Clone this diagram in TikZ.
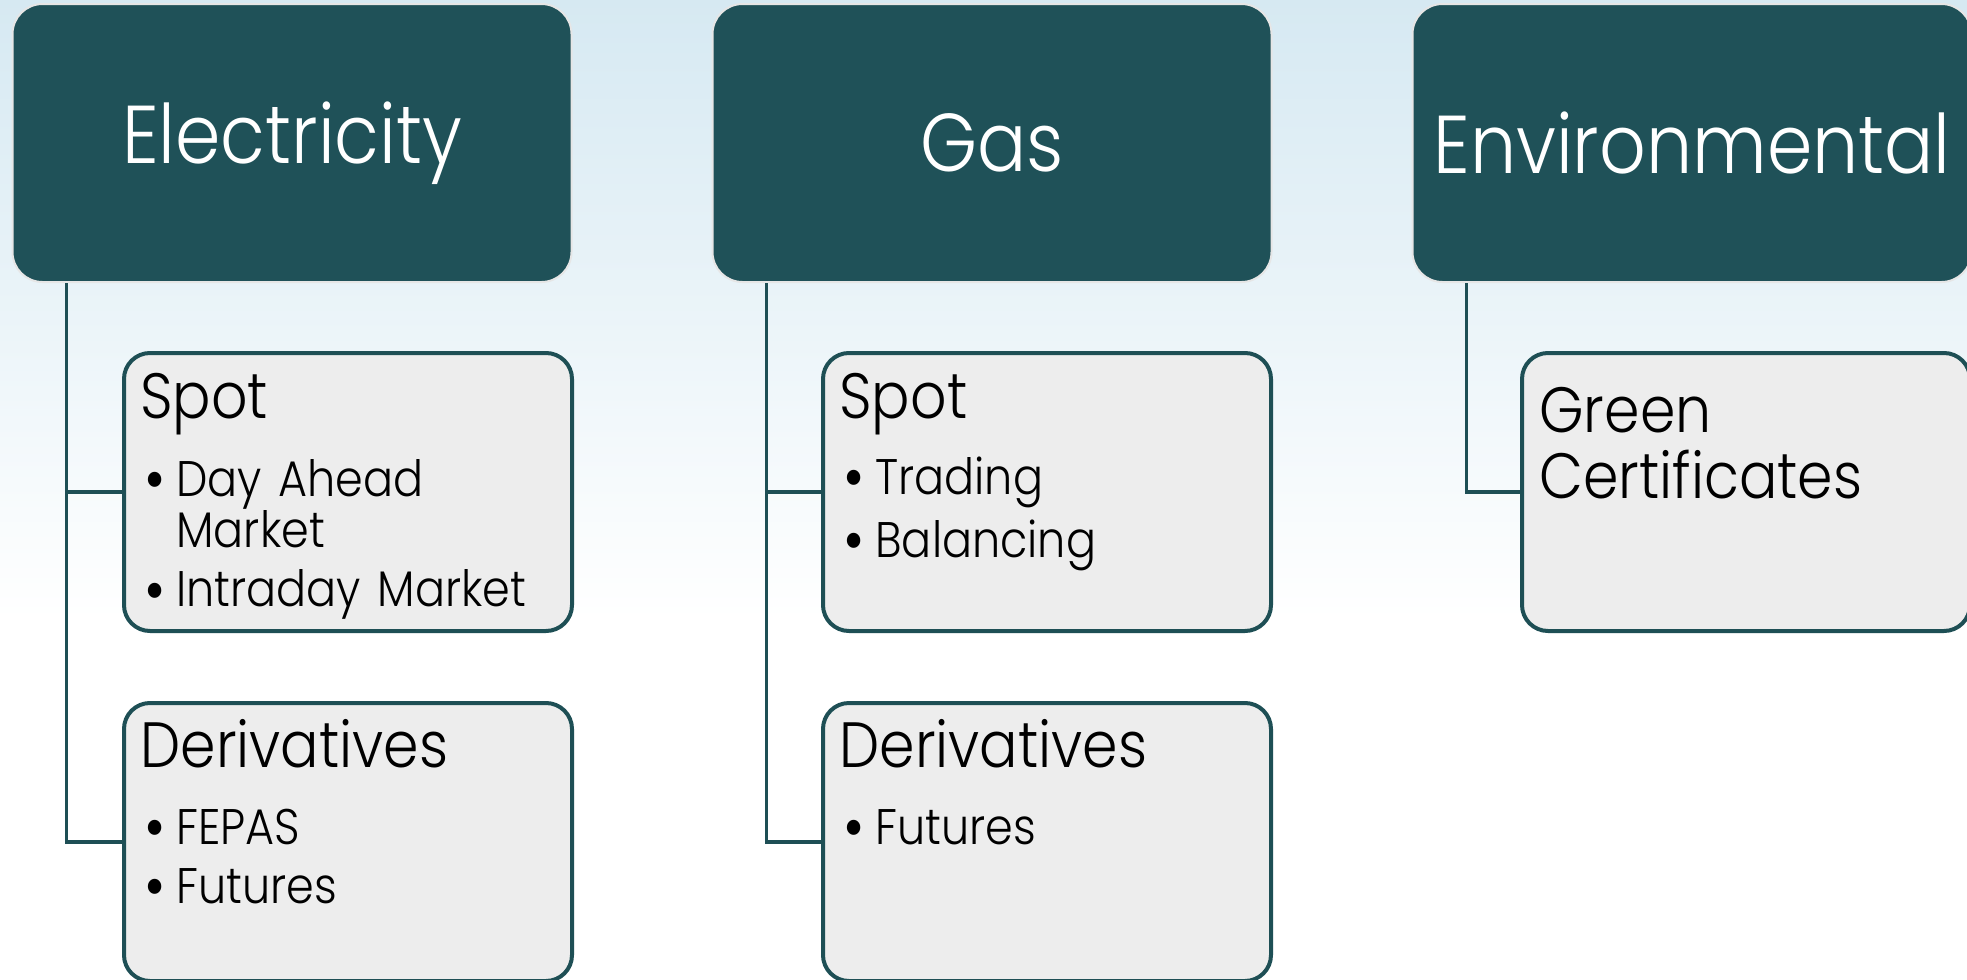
\documentclass[tikz,border=0pt]{standalone}
\usepackage{fontspec}
\setmainfont{Poppins}[FakeStretch=0.89, UprightFont=* Light]
\usepackage{xcolor}
\usetikzlibrary{positioning}

\definecolor{mkteal}{HTML}{1F5158}
\definecolor{mkline}{HTML}{1E4F55}
\definecolor{mkgrey}{HTML}{EDEDED}
\definecolor{mkrim}{HTML}{E6E6E6}
\definecolor{mkbgtop}{HTML}{D6E9F2}

\newcommand{\mkbul}[1]{\hspace*{2pt}\makebox[16pt][l]{\raisebox{-2.8pt}{\scalebox{1.3}{\textbullet}}}#1}
\newcommand{\mkcont}[1]{\hspace*{18pt}#1}

\tikzset{
  market/.style={draw=mkrim, line width=1pt, fill=mkteal, rounded corners=15pt,
    minimum width=279.5pt, minimum height=139pt, inner sep=0pt,
    text=white, font=\fontsize{41}{48}\selectfont},
  product/.style={draw=mkline, line width=2pt, fill=mkgrey, rounded corners=13pt,
    minimum width=224pt, minimum height=139pt, inner sep=0pt},
  headtext/.style={inner sep=0pt, anchor=base west, text width=400pt, align=left,
    font=\fontsize{32}{33}\selectfont},
  listtext/.style={inner sep=0pt, anchor=base west, text width=400pt, align=left,
    font=\fontsize{25}{24.5}\selectfont},
  link/.style={draw=mkline, line width=1.8pt}
}

\begin{document}
\begin{tikzpicture}[x=0.5pt,y=0.5pt,yscale=-1]
\useasboundingbox (0,0) rectangle (1967,980);
\clip (0,0) rectangle (1967,980);

%Background
\shade[top color=mkbgtop, bottom color=white] (0,0) rectangle (1967,620);
\fill[white] (0,620) rectangle (1967,980);

%Top level boxes
\node[market] (elec) at (292,143) {\raisebox{-2pt}{Electricity}};
\node[market] (gas) at (992,143) {\raisebox{-2pt}{Gas}};
\node[market] (env) at (1692,143) {\raisebox{-2pt}{Environmental}};

%Product boxes
\node[product] (espot) at (348,492) {};
\node[product] (ederiv) at (348,842) {};
\node[product] (gspot) at (1047,492) {};
\node[product] (gderiv) at (1047,842) {};
\node[product] (green) at (1746,492) {};

%Connectors
\draw[link] ([xshift=27.5pt]elec.south west) |- (espot.west);
\draw[link] ([xshift=27.5pt]elec.south west) |- (ederiv.west);
\draw[link] ([xshift=27.5pt]gas.south west) |- (gspot.west);
\draw[link] ([xshift=27.5pt]gas.south west) |- (gderiv.west);
\draw[link] ([xshift=27.5pt]env.south west) |- (green.west);

% Text Node
\node[headtext] (espothead) at ([shift={(18,67)}]espot.north west) {Spot};
\node[listtext] (espotlist) at ([shift={(18,145)}]espot.north west)
  {\mkbul{Day Ahead}\\\mkcont{Market}\\[5pt]\mkbul{Intraday Market}};
% Text Node
\node[headtext] (ederivhead) at ([shift={(18,66)}]ederiv.north west) {Derivatives};
\node[listtext] (ederivlist) at ([shift={(18,143)}]ederiv.north west)
  {\mkbul{FEPAS}\\[5pt]\mkbul{Futures}};
% Text Node
\node[headtext] (gspothead) at ([shift={(18,67)}]gspot.north west) {Spot};
\node[listtext] (gspotlist) at ([shift={(18,143)}]gspot.north west)
  {\mkbul{Trading}\\[5pt]\mkbul{Balancing}};
% Text Node
\node[headtext] (gderivhead) at ([shift={(18,66)}]gderiv.north west) {Derivatives};
\node[listtext] (gderivlist) at ([shift={(18,143)}]gderiv.north west)
  {\mkbul{Futures}};
% Text Node
\node[headtext] (greenhead) at ([shift={(19,81)}]green.north west)
  {Green\\Certificates};
\end{tikzpicture}
\end{document}
